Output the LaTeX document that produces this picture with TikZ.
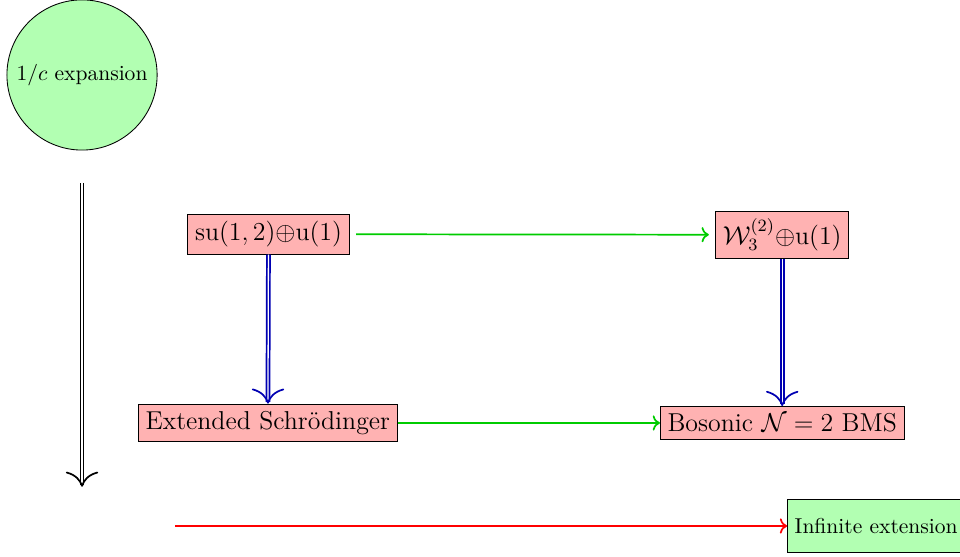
\documentclass[tikz,border=0pt]{standalone}
\usepackage{amsmath,amssymb}
\usetikzlibrary{positioning,arrows.meta}

\begin{document}
\begin{tikzpicture}[algbox/.style={rectangle, draw, fill=red!30, font=\large},
    extbox/.style={rectangle, draw, fill=green!30, minimum height=0.85cm},
    contr/.style={double, thick, -{To[length=7pt, width=15pt]}}]
    \useasboundingbox (0,0) rectangle (15.66,-9.07);
    \node[circle, draw, fill=green!30, minimum size=2.45cm] (exp) at (1.338,-1.223) {$1/c$ expansion};
    \node[algbox] (su) at (4.38,-3.82) {su$(1,2)$$\oplus$u$(1)$};
    \node[algbox] (w) at (12.76,-3.83) {$\mathcal{W}_3^{(2)}$$\oplus$u$(1)$};
    \node[algbox] (ext) at (4.37,-6.90) {Extended Schr\"odinger};
    \node[algbox] (bos) at (12.76,-6.90) {Bosonic $\mathcal{N}=2$ BMS};
    \node[extbox, anchor=west] (inf) at (12.84,-8.58) {Infinite extension};
    \coordinate (expstart) at (1.338,-2.985);
    \coordinate (expend) at (1.338,-7.94);
    \coordinate (infstart) at (2.855,-8.58);
    % contractions
    \draw[contr, black] (expstart) -- (expend);
    \draw[contr, blue!70!black] (su) -- (ext);
    \draw[contr, blue!70!black] (w) -- (bos);
    % embeddings
    \draw[thick, green!80!black, ->, shorten <=3pt, shorten >=3pt] (su) -- (w);
    \draw[thick, green!80!black, ->] (ext) -- (bos);
    \draw[thick, red, ->] (infstart) -- (inf);
\end{tikzpicture}
\end{document}
